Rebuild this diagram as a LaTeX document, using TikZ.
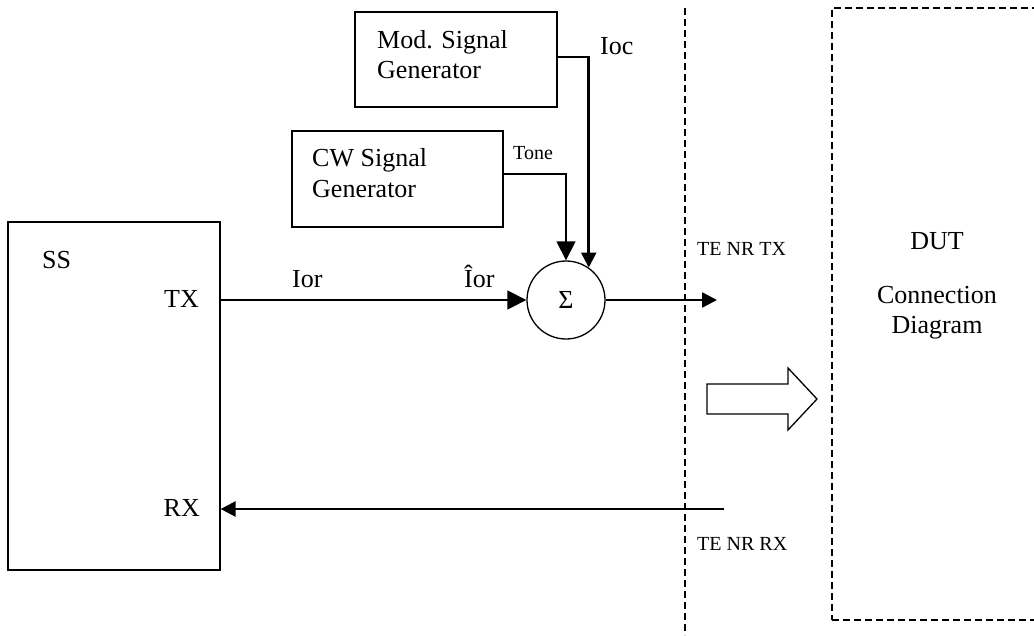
\documentclass[tikz,border=0pt]{standalone}
\usepackage{fontspec}
\setmainfont{Liberation Serif}
\usetikzlibrary{arrows.meta}
\begin{document}
\begin{tikzpicture}[x=1pt,y=-1pt,
  box/.style={draw, line width=1.3pt, inner sep=0pt},
  lbl/.style={inner sep=0pt, anchor=base west, font=\fontsize{26}{30}\selectfont},
  sml/.style={inner sep=0pt, anchor=base west, font=\fontsize{20}{24}\selectfont},
  thinline/.style={line width=1.3pt},
  thickline/.style={line width=2.6pt},
  bigtip/.style={-{Triangle[length=19pt,width=19pt]}},
  smalltip/.style={-{Triangle[length=15pt,width=15pt]}},
  dsh/.style={line width=1.5pt, dash pattern=on 7pt off 4pt}]
\useasboundingbox (0,0) rectangle (1034,635);
\clip (0,0) rectangle (1034,635);
% boxes
\node[box, minimum width=202pt, minimum height=95pt] (mod) at (456,59.5) {};
\node[box, minimum width=211pt, minimum height=96pt] (cw) at (397.5,179) {};
\node[box, minimum width=212pt, minimum height=348pt] (ss) at (114,396) {};
\node[draw, circle, line width=1.3pt, minimum size=78pt, inner sep=0pt, font=\fontsize{26}{30}\selectfont] (sum) at (566,300) {Σ};
\node[draw, dsh, minimum width=210pt, minimum height=612pt, inner sep=0pt] (dut) at (937,314) {};
% texts
\node[lbl] (modt1) at (377,48) {Mod. Signal};
\node[lbl] (modt2) at (377,78) {Generator};
\node[lbl] (cwt1) at (312,166) {CW Signal};
\node[lbl] (cwt2) at (312,197) {Generator};
\node[sml] (tone) at (513,159) {Tone};
\node[lbl] (ioc) at (600,54) {Ioc};
\node[lbl] (sst) at (42,268) {SS};
\node[lbl, anchor=base east] (txt) at (199,307) {TX};
\node[lbl, anchor=base east] (rxt) at (200,516) {RX};
\node[lbl] (ior) at (292,287) {Ior};
\node[lbl] (iorh) at (464,287) {Îor};
\node[sml] (tentx) at (697,255) {TE NR TX};
\node[sml] (tenrx) at (697,550) {TE NR RX};
\node[lbl, anchor=base] (dutt) at (937,249) {DUT};
\node[lbl, anchor=base] (conn) at (937,303) {Connection};
\node[lbl, anchor=base] (diag) at (937,333) {Diagram};
% connectors
\draw[thickline, smalltip] ([yshift=2.5pt]mod.east) -| (sum.55.7);
\draw[thinline, bigtip] ([yshift=5pt]cw.east) -| (sum.north);
\draw[thinline, bigtip] (ss.east |- sum.west) -- (sum.west);
\coordinate (txend) at (717,300);
\draw[thickline, smalltip] (sum.east) -- (txend);
\coordinate (rxstart) at (724,509);
\draw[thickline, smalltip] (rxstart) -- (rxstart -| ss.east);
% dashed separator
\coordinate (dtop) at (685,8);
\coordinate (dbot) at (685,635);
\draw[dsh] (dtop) -- (dbot);
% hollow block arrow
\draw[line width=1.3pt] (707,384) -- (788,384) -- (788,368) -- (817,399) -- (788,430) -- (788,414) -- (707,414) -- cycle;
\end{tikzpicture}
\end{document}
